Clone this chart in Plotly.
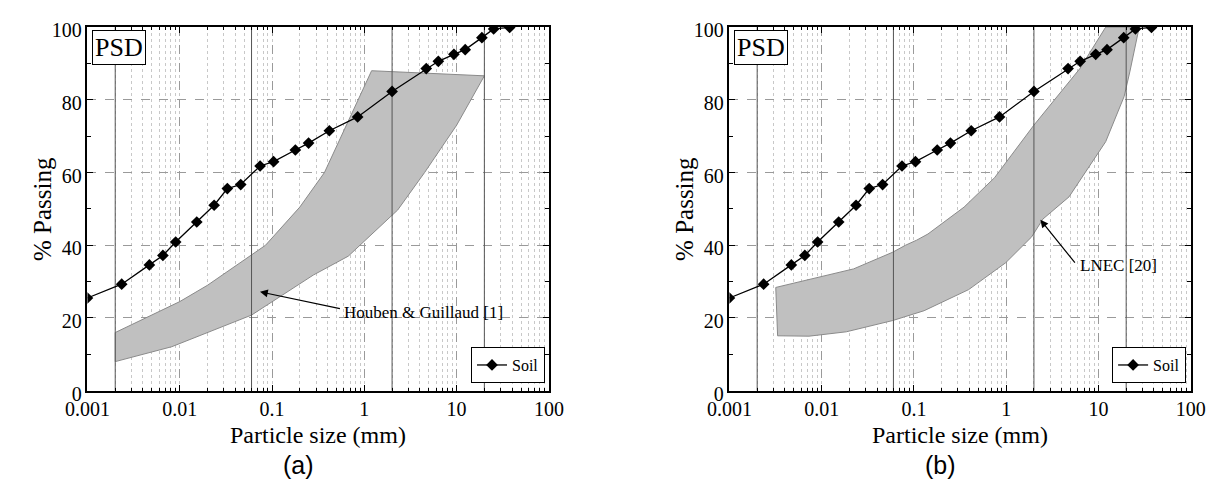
import math
import plotly.graph_objects as go

# Soil particle size distribution (mm, % passing)
soil_size = [0.001, 0.00235, 0.00469, 0.00657, 0.00904, 0.0153, 0.0236, 0.0328,
             0.0458, 0.0743, 0.104, 0.179, 0.249, 0.418, 0.847, 2.0, 4.69,
             6.34, 9.35, 12.4, 18.8, 25.2, 37.6]
soil_pass = [25.5, 29.3, 34.6, 37.2, 40.9, 46.4, 51.0, 55.6, 56.7, 61.8, 63.0,
             66.2, 68.1, 71.5, 75.3, 82.3, 88.6, 90.6, 92.5, 93.8, 97.1, 99.5, 99.9]

# Houben & Guillaud recommended band: upper and lower limits
hg_upper_size = [0.002, 0.005, 0.01, 0.02, 0.06, 0.085, 0.2, 0.37, 1.2, 20]
hg_upper_pass = [16.0, 20.8, 24.5, 29.0, 37.2, 40.0, 50.5, 60.0, 88.0, 86.6]
hg_lower_size = [0.002, 0.0082, 0.06, 0.1, 0.28, 0.67, 0.9, 2.3, 4.5, 10, 20]
hg_lower_pass = [8.0, 12.1, 20.8, 24.5, 31.8, 37.0, 40.0, 49.7, 60.0, 73.0, 86.6]

# LNEC recommended band: upper and lower limits
lnec_upper_size = [0.00318, 0.0222, 0.059, 0.081, 0.107, 0.142, 0.35, 0.75, 1.98, 6.3, 12.0, 27.7]
lnec_upper_pass = [28.4, 33.5, 38.1, 40.0, 41.4, 43.1, 50.5, 58.6, 72.9, 88.6, 100.0, 100.0]
lnec_lower_size = [0.00333, 0.0073, 0.0185, 0.0589, 0.129, 0.392, 0.989, 1.89, 2.5, 4.8, 12.0, 19.0, 22.0, 27.7]
lnec_lower_pass = [15.1, 15.0, 16.2, 19.3, 22.0, 27.8, 35.2, 42.3, 47.2, 53.3, 68.5, 80.9, 87.9, 100.0]

# Fraction limits: clay / silt / sand / gravel
fraction_limits = [0.002, 0.06, 2, 20]

y_ticks = [0, 20, 40, 60, 80, 100]
x_tick_vals = [0.001, 0.01, 0.1, 1, 10, 100]
x_tick_text = ["0.001", "0.01", "0.1", "1", "10", "100"]

W, H = 1226, 490
SERIF = "Liberation Serif"
SANS = "Liberation Sans"

def px_x(p):
    return p / W

def px_y(p):
    return 1 - p / H

fig = go.Figure()

panels = [
    dict(xa="x", ya="y", leg="legend", dom=[66.5, 542.7],
         up=(hg_upper_size, hg_upper_pass), lo=(hg_lower_size, hg_lower_pass)),
    dict(xa="x2", ya="y2", leg="legend2", dom=[729.0, 1205.0],
         up=(lnec_upper_size, lnec_upper_pass), lo=(lnec_lower_size, lnec_lower_pass)),
]

for p in panels:
    ux, uy = p["up"]
    lx, ly = p["lo"]
    band_x = list(ux) + list(reversed(lx)) + [ux[0]]
    band_y = list(uy) + list(reversed(ly)) + [uy[0]]
    fig.add_trace(go.Scatter(
        x=band_x, y=band_y, mode="lines", fill="toself",
        fillcolor="#c0c0c0", line=dict(color="#8a8a8a", width=1),
        xaxis=p["xa"], yaxis=p["ya"], showlegend=False, hoverinfo="skip"))
    vx, vy = [], []
    for d in fraction_limits:
        vx += [d, d, None]
        vy += [0, 100, None]
    fig.add_trace(go.Scatter(
        x=vx, y=vy, mode="lines", line=dict(color="#555555", width=1),
        xaxis=p["xa"], yaxis=p["ya"], showlegend=False, hoverinfo="skip"))
    fig.add_trace(go.Scatter(
        x=soil_size, y=soil_pass, mode="lines+markers", name="Soil",
        line=dict(color="black", width=1.3),
        marker=dict(symbol="diamond", size=9, color="black"),
        xaxis=p["xa"], yaxis=p["ya"], legend=p["leg"], showlegend=True))

def x_axis(dom):
    return dict(
        type="log", range=[-3, 2], domain=[px_x(dom[0]), px_x(dom[1])],
        tickvals=x_tick_vals, ticktext=x_tick_text,
        ticks="inside", ticklen=6, tickcolor="black", mirror="allticks",
        showline=True, linecolor="black", linewidth=1.5,
        showgrid=True, gridcolor="#9a9a9a", griddash="dash", gridwidth=1,
        tickfont=dict(family=SERIF, size=20, color="black"),
        minor=dict(ticks="inside", ticklen=3, tickcolor="black", dtick="D1",
                   showgrid=True, gridcolor="#c8c8c8", griddash="dot", gridwidth=1),
        zeroline=False, fixedrange=True)

def y_axis(anchor):
    return dict(
        range=[0, 100], domain=[px_y(400.7), px_y(20.0)], anchor=anchor,
        tickvals=y_ticks, ticks="inside", ticklen=6, tickcolor="black",
        mirror="allticks", showline=True, linecolor="black", linewidth=1.5,
        ticklabelshift=3,
        showgrid=True, gridcolor="#9a9a9a", griddash="dash", gridwidth=1,
        tickfont=dict(family=SERIF, size=20, color="black"),
        minor=dict(ticks="inside", ticklen=4, tickcolor="black", dtick=10, showgrid=False),
        zeroline=False, fixedrange=True)

legend_style = dict(xanchor="right", yanchor="bottom", y=px_y(392.7),
                    bgcolor="white", bordercolor="black", borderwidth=1,
                    font=dict(family=SERIF, size=16, color="black"),
                    itemwidth=30, tracegroupgap=0)

fig.update_layout(
    width=W, height=H, margin=dict(l=0, r=0, t=0, b=0),
    paper_bgcolor="white", plot_bgcolor="white",
    xaxis=dict(x_axis(panels[0]["dom"]), anchor="y"),
    yaxis=y_axis("x"),
    xaxis2=dict(x_axis(panels[1]["dom"]), anchor="y2"),
    yaxis2=y_axis("x2"),
    legend=dict(legend_style, x=px_x(538.7)),
    legend2=dict(legend_style, x=px_x(1200.3)),
    showlegend=True,
)

ann = []
for p, cap, cx in [(panels[0], "(a)", 284.5), (panels[1], "(b)", 947.0)]:
    left, right = p["dom"]
    # PSD label box
    ann.append(dict(text="PSD", xref="paper", yref="paper",
                    x=px_x(left + 5), y=px_y(23.5), xanchor="left", yanchor="top",
                    showarrow=False, bgcolor="white", bordercolor="black",
                    borderwidth=1, borderpad=2,
                    font=dict(family=SERIF, size=26, color="black")))
    # axis titles
    ann.append(dict(text="Particle size (mm)", xref="paper", yref="paper",
                    x=px_x((left + right) / 2), y=px_y(447.5), xanchor="center",
                    yanchor="middle", showarrow=False,
                    font=dict(family=SERIF, size=24, color="black")))
    ann.append(dict(text="% Passing", xref="paper", yref="paper", textangle=-90,
                    x=px_x(left - 46.5), y=px_y(210), xanchor="center",
                    yanchor="middle", showarrow=False,
                    font=dict(family=SERIF, size=25, color="black")))
    ann.append(dict(text=cap, xref="paper", yref="paper",
                    x=px_x(cx), y=px_y(478), xanchor="center", yanchor="middle",
                    showarrow=False, font=dict(family=SANS, size=25, color="black")))

# Band labels with arrows (x in log10 units on log axes)
labels = [
    ("x", "y", "Houben & Guillaud [1]", (0.0741, 27.2), (0.565, 22.5), (0.57, 21.6)),
    ("x2", "y2", "LNEC [20]", (2.35, 47.0), (5.73, 34.8), (5.96, 34.3)),
]
for xr, yr, txt, head, tail, tpos in labels:
    ann.append(dict(text="", xref=xr, yref=yr, axref=xr, ayref=yr,
                    x=math.log10(head[0]), y=head[1],
                    ax=math.log10(tail[0]), ay=tail[1],
                    showarrow=True, arrowhead=2, arrowsize=1.3, arrowwidth=1.2,
                    arrowcolor="black"))
    ann.append(dict(text=txt, xref=xr, yref=yr, x=math.log10(tpos[0]), y=tpos[1],
                    xanchor="left", yanchor="middle", showarrow=False,
                    font=dict(family=SERIF, size=17, color="black")))

fig.update_layout(annotations=ann)
fig.write_html("out.html")
